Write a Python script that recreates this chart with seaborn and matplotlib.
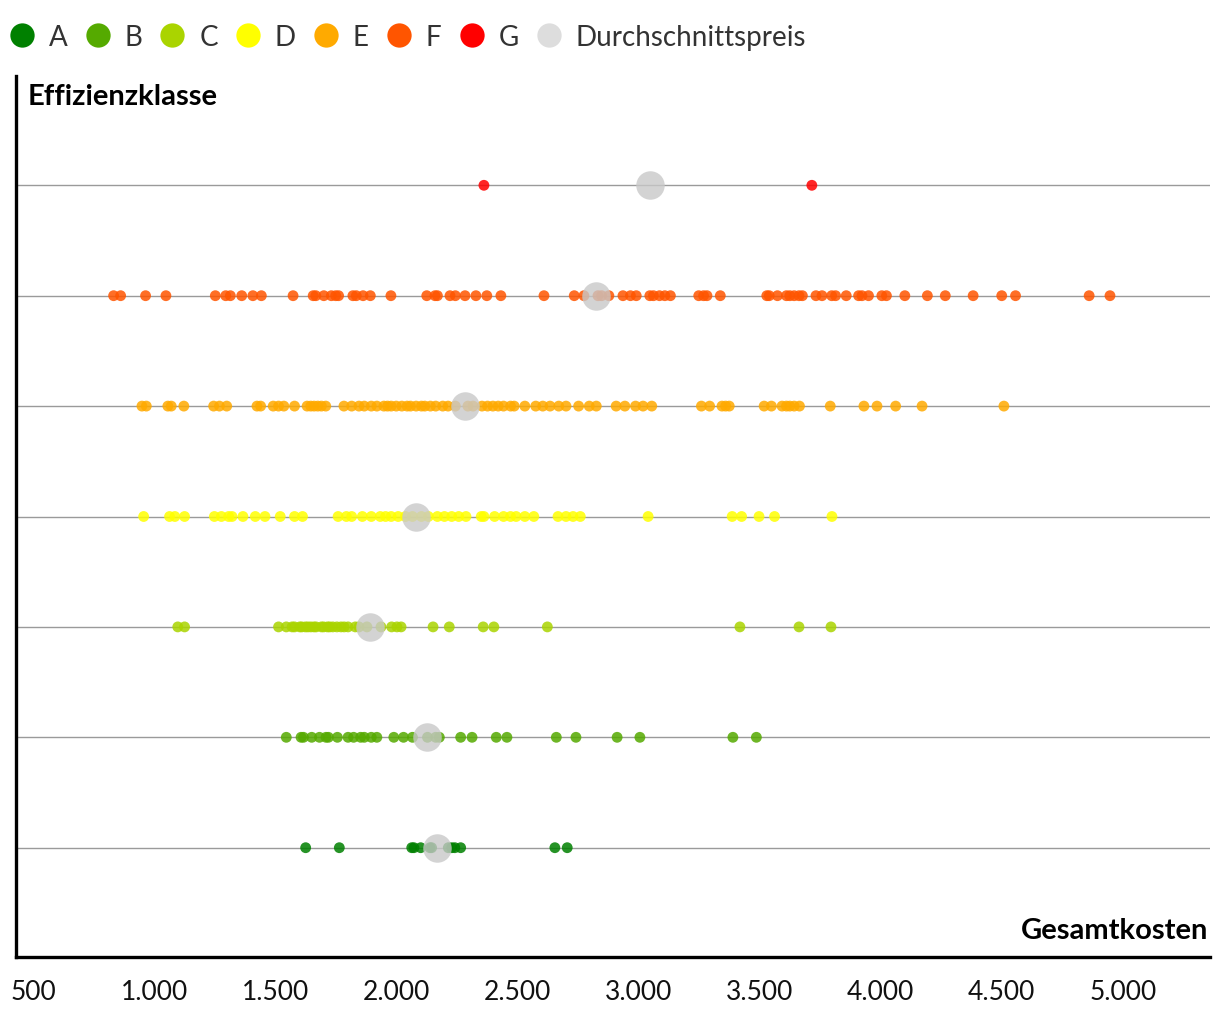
import matplotlib
matplotlib.use("Agg")
import matplotlib.pyplot as plt
from matplotlib.lines import Line2D
from matplotlib.ticker import FuncFormatter
import seaborn as sns
import pandas as pd

# ---- data -------------------------------------------------------------
classes = ["G", "F", "E", "D", "C", "B", "A"]

costs_A = [1626, 1765, 2064, 2073, 2101, 2139, 2146, 2215, 2229, 2242, 2266, 2655, 2706]
costs_B = [1546, 1607, 1617, 1651, 1683, 1710, 1720, 1757, 1801, 1824, 1853, 1868, 1897,
           1920, 1990, 2030, 2067, 2129, 2163, 2178, 2266, 2313, 2413, 2457, 2661, 2742,
           2912, 3006, 3390, 3487]
costs_C = [1098, 1126, 1514, 1546, 1570, 1580, 1602, 1610, 1625, 1635, 1647, 1660, 1669,
           1691, 1700, 1716, 1725, 1738, 1755, 1772, 1785, 1801, 1831, 1846, 1879, 1937,
           1981, 2003, 2020, 2152, 2219, 2359, 2403, 2624, 3419, 3663, 3795]
costs_D = [957, 1064, 1086, 1126, 1249, 1278, 1308, 1322, 1367, 1418, 1458, 1521, 1580,
           1613, 1760, 1794, 1816, 1860, 1897, 1934, 1956, 1979, 2008, 2038, 2067, 2104,
           2133, 2170, 2199, 2229, 2258, 2288, 2351, 2362, 2406, 2443, 2472, 2495, 2531,
           2568, 2668, 2701, 2730, 2760, 3040, 3387, 3426, 3498, 3562, 3799]
costs_E = [950, 968, 1057, 1071, 1123, 1246, 1270, 1300, 1425, 1440, 1492, 1514, 1536,
           1580, 1632, 1647, 1661, 1676, 1691, 1709, 1784, 1816, 1846, 1868, 1897, 1920,
           1949, 1964, 1979, 2000, 2023, 2045, 2059, 2082, 2104, 2118, 2141, 2163, 2192,
           2214, 2244, 2296, 2317, 2354, 2377, 2399, 2421, 2443, 2472, 2487, 2531, 2576,
           2605, 2635, 2671, 2701, 2753, 2797, 2826, 2908, 2944, 2988, 3019, 3055, 3260,
           3294, 3345, 3360, 3375, 3519, 3549, 3593, 3611, 3625, 3643, 3665, 3792, 3931,
           3985, 4062, 4171, 4509]
costs_F = [833, 862, 965, 1049, 1253, 1296, 1315, 1362, 1408, 1443, 1574, 1657, 1668,
           1701, 1732, 1750, 1762, 1821, 1835, 1863, 1893, 1978, 2126, 2160, 2170, 2222,
           2244, 2284, 2329, 2374, 2432, 2610, 2735, 2775, 2833, 2848, 2878, 2936, 2967,
           2991, 3047, 3062, 3087, 3109, 3132, 3249, 3269, 3283, 3338, 3530, 3540, 3574,
           3611, 3625, 3643, 3663, 3677, 3733, 3758, 3798, 3814, 3858, 3909, 3923, 3950,
           4005, 4024, 4100, 4193, 4267, 4382, 4500, 4557, 4861, 4947]
costs_G = [2362, 3716]

avg_price = [3047, 2825, 2284, 2081, 1891, 2127, 2169]  # G..A

class_colors = ["#ff0000", "#ff5500", "#ffaa00", "#ffff00", "#aad400", "#55aa00", "#008000"]

x_ticks = [500, 1000, 1500, 2000, 2500, 3000, 3500, 4000, 4500, 5000]

# ---- build tables ------------------------------------------------------
series = {"G": costs_G, "F": costs_F, "E": costs_E, "D": costs_D,
          "C": costs_C, "B": costs_B, "A": costs_A}
df = pd.DataFrame([(k, v) for k in classes for v in series[k]],
                  columns=["Effizienzklasse", "Gesamtkosten"])
df_avg = pd.DataFrame({"Effizienzklasse": classes, "Gesamtkosten": avg_price})
palette = dict(zip(classes, class_colors))

# ---- figure ------------------------------------------------------------
sns.set_theme(style="white")
plt.rcParams["font.family"] = ["Lato", "DejaVu Sans"]

fig = plt.figure(figsize=(12.2, 10.2), dpi=100)
ax = fig.add_axes([16 / 1220, 62 / 1020, 1194 / 1220, 881 / 1020])

sns.stripplot(data=df, x="Gesamtkosten", y="Effizienzklasse", hue="Effizienzklasse",
              order=classes, hue_order=classes, palette=palette, jitter=False,
              size=7.8, alpha=0.85, linewidth=0, legend=False, ax=ax, zorder=3)
sns.stripplot(data=df_avg, x="Gesamtkosten", y="Effizienzklasse", order=classes,
              color="#c8c8c8", jitter=False, size=20.5, alpha=0.8, linewidth=0,
              legend=False, ax=ax, zorder=4)

ax.set_xlim(430, 5360)
ax.set_ylim(6.99, -0.99)
ax.set_xticks(x_ticks)
ax.xaxis.set_major_formatter(FuncFormatter(lambda v, p: f"{int(v):,}".replace(",", ".")))
ax.tick_params(axis="x", length=0, pad=16, labelsize=19, labelcolor="#111111")
ax.tick_params(axis="y", length=0, labelleft=False)
ax.set_xlabel("")
ax.set_ylabel("")

ax.yaxis.grid(True, color="#9a9a9a", linewidth=1.0, zorder=0)
ax.xaxis.grid(False)
ax.set_axisbelow(True)

for s in ["top", "right"]:
    ax.spines[s].set_visible(False)
for s in ["left", "bottom"]:
    ax.spines[s].set_color("black")
    ax.spines[s].set_linewidth(2.4)

ax.text(12 / 1194, 1 - 20 / 881, "Effizienzklasse", transform=ax.transAxes,
        ha="left", va="center", fontsize=21, fontweight="bold", color="black")
ax.text(1 - 2 / 1194, 27 / 881, "Gesamtkosten", transform=ax.transAxes,
        ha="right", va="center", fontsize=21, fontweight="bold", color="black")

handles = [Line2D([], [], marker="o", ls="", markersize=17.5, markeredgewidth=0,
                  color=c) for c in class_colors[::-1]]
handles.append(Line2D([], [], marker="o", ls="", markersize=17.5, markeredgewidth=0,
                      color="#dddddd"))
labels = classes[::-1] + ["Durchschnittspreis"]
leg = fig.legend(handles, labels, loc="center left", bbox_to_anchor=(8 / 1220, 1 - 38 / 1020),
                 ncol=8, frameon=False, handletextpad=0.47, columnspacing=0.58,
                 handlelength=1.0, fontsize=20, borderaxespad=0, borderpad=0)
for t in leg.get_texts():
    t.set_color("#333333")

fig.savefig("out.png", dpi=100, facecolor="white")
